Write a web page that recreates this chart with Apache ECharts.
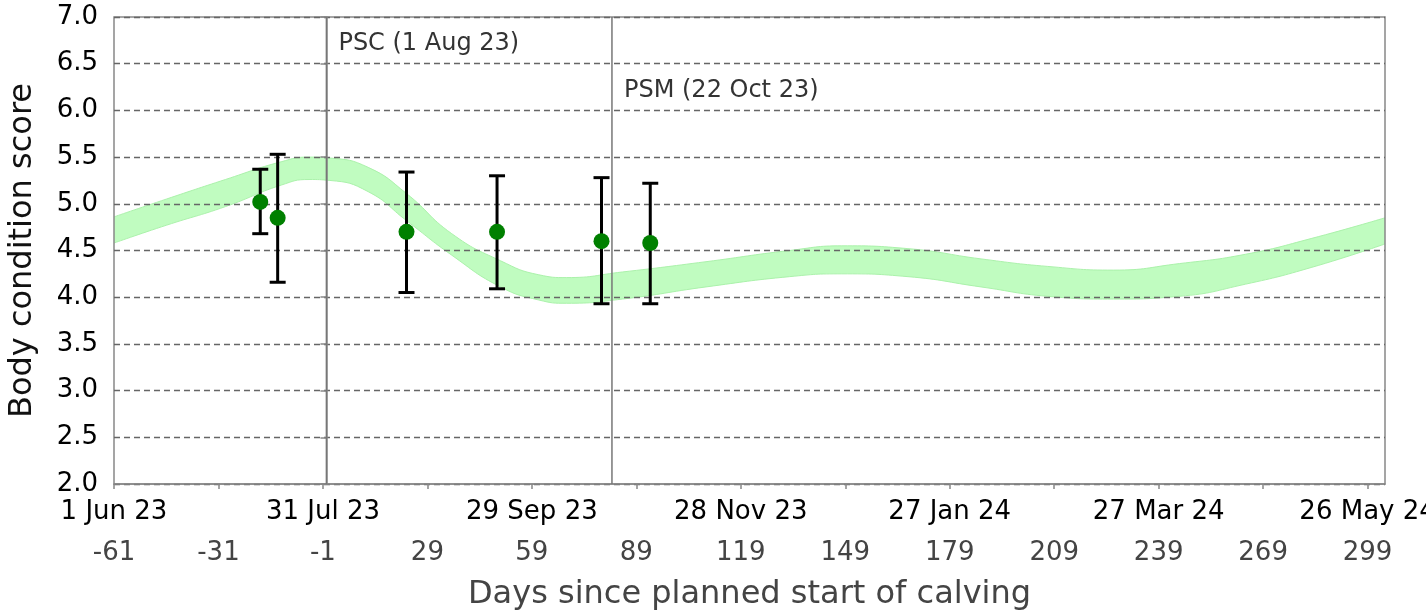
<!DOCTYPE html>
<html><head><meta charset="utf-8">
<script src="https://cdn.jsdelivr.net/npm/echarts@6/dist/echarts.min.js"></script>
<style>html,body{margin:0;padding:0;background:#fff}#c{width:1426px;height:614px}</style>
</head><body><div id="c"></div>
<script>
// ---- data ----
const xTickDays = [-61,-31,-1,29,59,89,119,149,179,209,239,269,299];
const xTickDates = ['1 Jun 23','','31 Jul 23','','29 Sep 23','','28 Nov 23','','27 Jan 24','','27 Mar 24','','26 May 24'];

const bandDays  = [-61,-46,-29,-13,-5,1,12,23,36,50,61,69,85,109,133,148,167,188,207,226,245,264,283,304];
const bandUpper = [4.86,5.05,5.26,5.45,5.50,5.49,5.39,5.11,4.68,4.39,4.24,4.21,4.27,4.38,4.50,4.55,4.52,4.41,4.33,4.29,4.36,4.46,4.63,4.85];
const bandLower = [4.58,4.77,4.97,5.20,5.26,5.25,5.13,4.82,4.45,4.11,3.97,3.935,3.98,4.11,4.22,4.25,4.22,4.11,4.01,3.98,4.01,4.14,4.32,4.57];

const ptDays = [-19,-14,23,49,79,93];
const ptMean = [5.02,4.85,4.70,4.70,4.60,4.58];
const ptLow  = [4.68,4.16,4.05,4.09,3.93,3.93];
const ptHigh = [5.37,5.53,5.34,5.30,5.28,5.22];

const annotDays = [0,82];
const annotLabels = ['PSC (1 Aug 23)','PSM (22 Oct 23)'];

// ---- chart ----
const FONT = 'DejaVu Sans';
const labelOffsets = [27, 74];
const chart = echarts.init(document.getElementById('c'), null, {renderer:'canvas'});
const option = {
  animation:false,
  backgroundColor:'#fff',
  grid:{left:114,right:41,top:17,bottom:130,show:true,borderColor:'#888',borderWidth:1.5,z:2,
        outerBoundsMode:'none',containLabel:false},
  xAxis:{
    type:'value',min:-61,max:304,z:2,
    name:'Days since planned start of calving',nameLocation:'middle',nameGap:95,
    nameTextStyle:{fontFamily:FONT,fontSize:32,color:'#444'},
    axisLine:{show:true,lineStyle:{color:'#888',width:1.5}},
    axisTick:{show:true,customValues:xTickDays,length:5,lineStyle:{color:'#888',width:1.5}},
    axisLabel:{
      customValues:xTickDays,margin:8,
      formatter:(v)=>{
        const i = xTickDays.indexOf(v);
        const d = (i>=0 && xTickDates[i]) ? xTickDates[i] : ' ';
        return '{d|'+d+'}\n{n|'+v+'}';
      },
      rich:{
        d:{fontFamily:FONT,fontSize:26,color:'#000',lineHeight:41},
        n:{fontFamily:FONT,fontSize:26,color:'#444',lineHeight:41}
      }
    },
    splitLine:{show:false}
  },
  yAxis:{
    type:'value',min:2,max:7,interval:0.5,z:2,
    name:'Body condition score',nameLocation:'middle',nameGap:75,
    nameTextStyle:{fontFamily:FONT,fontSize:32,color:'#111'},
    axisLine:{show:true,lineStyle:{color:'#888',width:1.5}},
    axisTick:{show:true,length:6,lineStyle:{color:'#888',width:1.5}},
    axisLabel:{margin:16,fontFamily:FONT,fontSize:26,color:'#000',formatter:(v)=>v.toFixed(1)},
    splitLine:{show:true,lineStyle:{type:[6,4],color:'#666',width:1.4}}
  },
  series:[
    {
      type:'line',name:'upper',smooth:0.5,symbol:'none',silent:true,z:1,
      data:bandDays.map((d,i)=>[d,bandUpper[i]]),
      lineStyle:{color:'#abf2ab',width:1},
      areaStyle:{color:'#c0fcc0',opacity:1,origin:'start'}
    },
    {
      type:'line',name:'lower',smooth:0.5,symbol:'none',silent:true,z:1,
      data:bandDays.map((d,i)=>[d,bandLower[i]]),
      lineStyle:{color:'#abf2ab',width:1},
      areaStyle:{color:'#ffffff',opacity:1,origin:'start'}
    },
    {
      type:'custom',name:'annot',silent:true,z:3,
      encode:{x:0,y:1},
      data:annotDays.map((d,i)=>[d,i]),
      renderItem:(params,api)=>{
        const x = api.value(0), idx = api.value(1);
        const top = api.coord([x,7]), bot = api.coord([x,2]);
        return {type:'group',children:[
          {type:'line',shape:{x1:top[0],y1:top[1],x2:bot[0],y2:bot[1]},
           style:{stroke:'#777',lineWidth:1.5}},
          {type:'text',x:top[0]+12,y:top[1]+labelOffsets[idx],
           style:{text:annotLabels[idx],fill:'#333',font:'24px "DejaVu Sans"',align:'left',verticalAlign:'middle'}}
        ]};
      }
    },
    {
      type:'custom',name:'err',silent:true,z:5,
      encode:{x:0,y:[1,2]},
      data:ptDays.map((d,i)=>[d,ptLow[i],ptHigh[i]]),
      renderItem:(params,api)=>{
        const lo = api.coord([api.value(0),api.value(1)]);
        const hi = api.coord([api.value(0),api.value(2)]);
        const w = 8;
        const st = {stroke:'#000',lineWidth:3};
        return {type:'group',children:[
          {type:'line',shape:{x1:lo[0],y1:lo[1],x2:hi[0],y2:hi[1]},style:st},
          {type:'line',shape:{x1:lo[0]-w,y1:lo[1],x2:lo[0]+w,y2:lo[1]},style:st},
          {type:'line',shape:{x1:hi[0]-w,y1:hi[1],x2:hi[0]+w,y2:hi[1]},style:st}
        ]};
      }
    },
    {
      type:'scatter',name:'mean',z:10,silent:true,
      symbol:'circle',symbolSize:16,
      itemStyle:{color:'#008000',opacity:1},
      data:ptDays.map((d,i)=>[d,ptMean[i]])
    }
  ]
};
chart.setOption(option);
</script>
</body></html>
